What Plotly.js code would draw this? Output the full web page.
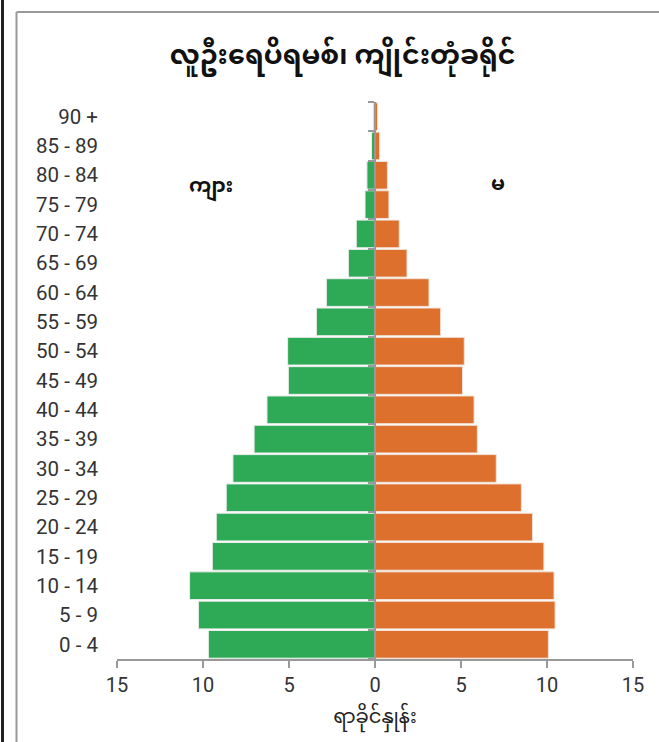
<!DOCTYPE html>
<html>
<head>
<meta charset="utf-8">
<script src="https://cdn.plot.ly/plotly-3.0.1.min.js"></script>
<style>
  html, body { margin: 0; padding: 0; background: #fff; }
  #chart { width: 659px; height: 742px; }
</style>
</head>
<body>
<div id="chart"></div>
<script>
const ages = ['0 - 4','5 - 9','10 - 14','15 - 19','20 - 24','25 - 29','30 - 34','35 - 39','40 - 44','45 - 49','50 - 54','55 - 59','60 - 64','65 - 69','70 - 74','75 - 79','80 - 84','85 - 89','90 +'];
const male = [9.69,10.27,10.78,9.46,9.23,8.65,8.26,7.03,6.28,5.04,5.08,3.41,2.83,1.55,1.09,0.58,0.47,0.20,0.10];
const female = [10.08,10.47,10.41,9.82,9.16,8.51,7.05,5.95,5.76,5.09,5.19,3.82,3.14,1.86,1.41,0.81,0.72,0.27,0.15];
const xTickVals = [-15,-10,-5,0,5,10,15];
const xTickText = ['15','10','5','0','5','10','15'];
const titleText = 'လူဦးရေပိရမစ်၊ ကျိုင်းတုံခရိုင်';
const maleLabel = 'ကျား';
const femaleLabel = 'မ';
const xTitle = 'ရာခိုင်နှုန်း';

const myFont = '"Noto Sans Myanmar", "Padauk", "Myanmar Text", "Noto Sans", sans-serif';
const numFont = 'Roboto, "Noto Sans", sans-serif';

const W = 659, H = 742, L = 117, R = 26, T = 102, B = 83;
const pw = W - L - R, ph = H - T - B;
const px = v => (v - L) / pw;
const py = v => (H - B - v) / ph;

const traces = [
  {
    type: 'bar', orientation: 'h', y: ages, x: male.map(v => -v),
    marker: { color: '#2eaa57', line: { color: '#eeeeee', width: 1 } },
    hoverinfo: 'skip', showlegend: false
  },
  {
    type: 'bar', orientation: 'h', y: ages, x: female,
    marker: { color: '#dd702d', line: { color: '#f3e3da', width: 1 } },
    hoverinfo: 'skip', showlegend: false
  },
  {
    type: 'scatter', mode: 'markers', y: ages, x: ages.map(() => 0),
    yaxis: 'y2', marker: { opacity: 0, size: 1 }, hoverinfo: 'skip', showlegend: false
  }
];

const layout = {
  width: W, height: H,
  margin: { l: L, r: R, t: T, b: B },
  paper_bgcolor: '#fff', plot_bgcolor: '#fff',
  barmode: 'overlay', bargap: 0.055,
  title: {
    text: titleText, xref: 'container', yref: 'container',
    x: 0.52, xanchor: 'center', y: 1 - 55 / H, yanchor: 'middle',
    font: { family: myFont, size: 27, color: '#111', weight: 'bold' }
  },
  xaxis: {
    range: [-15, 15], tickvals: xTickVals, ticktext: xTickText,
    ticks: 'outside', ticklen: 7, tickwidth: 2, tickcolor: '#999',
    showline: true, linecolor: '#999', linewidth: 2,
    showgrid: false, zeroline: false,
    tickfont: { family: numFont, size: 20, color: '#333' },
    title: { text: xTitle, font: { family: myFont, size: 19.5, color: '#222' }, standoff: 9 }
  },
  yaxis: {
    type: 'category', categoryarray: ages, categoryorder: 'array',
    range: [-0.5, 18.5], ticks: '', showline: false, showgrid: false, zeroline: false,
    tickfont: { family: numFont, size: 20.5, color: '#333' }, ticklabelstandoff: 18
  },
  yaxis2: {
    type: 'category', categoryarray: ages, categoryorder: 'array',
    overlaying: 'y', anchor: 'free', position: 0.5, side: 'left',
    range: [-0.5, 18.5], showticklabels: false,
    ticks: 'outside', tickson: 'boundaries', ticklen: 6, tickwidth: 2, tickcolor: '#999',
    showline: true, linecolor: '#999', linewidth: 2, showgrid: false, zeroline: false
  },
  annotations: [
    { text: maleLabel, xref: 'paper', yref: 'paper', x: px(211), y: py(187),
      xanchor: 'center', yanchor: 'middle',
      showarrow: false, font: { family: myFont, size: 20, color: '#111', weight: 'bold' } },
    { text: femaleLabel, xref: 'paper', yref: 'paper', x: px(498), y: py(185),
      xanchor: 'center', yanchor: 'middle',
      showarrow: false, font: { family: myFont, size: 20, color: '#111', weight: 'bold' } }
  ],
  shapes: [
    { type: 'line', xref: 'paper', yref: 'paper', x0: px(2.5), x1: px(2.5), y0: py(0), y1: py(H),
      line: { color: '#222', width: 3 } },
    { type: 'line', xref: 'paper', yref: 'paper', x0: px(16.5), x1: px(16.5), y0: py(12), y1: py(H),
      line: { color: '#999', width: 2 } },
    { type: 'line', xref: 'paper', yref: 'paper', x0: px(16.5), x1: px(W + 2), y0: py(12), y1: py(12),
      line: { color: '#999', width: 2 } }
  ]
};

Plotly.newPlot('chart', traces, layout, { staticPlot: true, displayModeBar: false });
</script>
</body>
</html>
